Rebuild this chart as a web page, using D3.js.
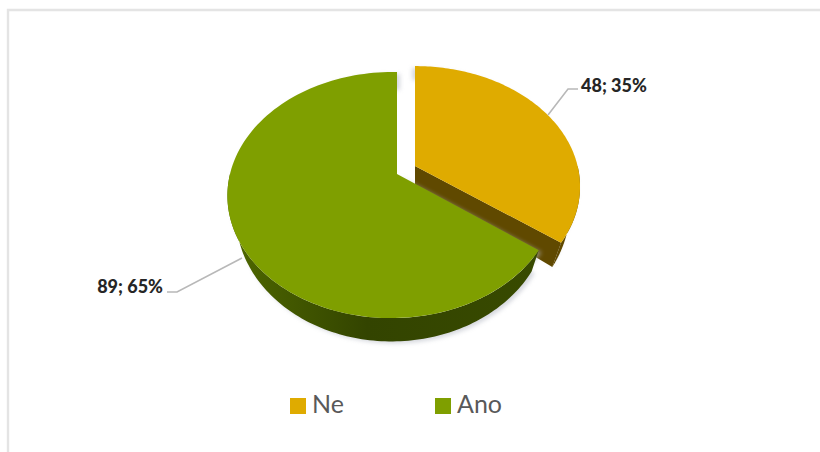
<!DOCTYPE html>
<html>
<head>
<meta charset="utf-8">
<script src="https://cdn.jsdelivr.net/npm/d3@7"></script>
<style>
html,body{margin:0;padding:0;background:#fff}
svg{display:block}
</style>
</head>
<body>
<svg id="chart" width="820" height="452"></svg>
<script>
// Survey answers
const categories = ["Ne", "Ano"];
const counts = [48, 89];
const percents = [35, 65];
const topColors = ["#dfab00", "#7f9f00"];

const svg = d3.select("#chart");
const defs = svg.append("defs");

// Soft shadow under the disc
const blur = defs.append("filter").attr("id", "soft")
  .attr("x", "-10%").attr("y", "-10%").attr("width", "120%").attr("height", "120%");
blur.append("feGaussianBlur").attr("stdDeviation", 2);

const wallGreen = defs.append("linearGradient").attr("id", "wallGreen")
  .attr("x1", 0).attr("x2", 1).attr("y1", 0).attr("y2", 0);
wallGreen.selectAll("stop")
  .data([[0, "#4f6800"], [0.45, "#334400"], [1, "#384a00"]])
  .join("stop")
  .attr("offset", d => d[0]).attr("stop-color", d => d[1]);

// Frame around the chart area: top and left edges only
svg.append("path")
  .attr("d", "M8,452V10H820")
  .attr("fill", "none")
  .attr("stroke", "#e4e4e4")
  .attr("stroke-width", 2.4);

// Each slice is pulled away from the centre, so it carries its own apex and
// perspective. k tilts the disc away from the viewer, m turns it sideways.
const views = [
  {ax: 415, ay: 166, sx: 162.6, sy: 117, k: 0.171, m: 0, drop: 19, bx: 0.94, by: 1.07, shadow: [-3, 2]},
  {ax: 397, ay: 174, sx: 162, sy: 119.4, k: 0.171, m: 0.03, drop: 19, bx: 0.95, by: 1.03, shadow: [3, 2]}
];

const slices = d3.pie().sort(null).value(d => d)(counts);

function project(view, angle, lower) {
  const w = 1 + view.k * Math.cos(angle) + view.m * Math.sin(angle);
  const px = view.sx * Math.sin(angle) / w;
  const py = -view.sy * Math.cos(angle) / w;
  return lower
    ? [view.ax + px * view.bx, view.ay + view.drop + py * view.by]
    : [view.ax + px, view.ay + py];
}

function rim(view, from, to, lower) {
  return d3.range(0, 121).map(i =>
    project(view, d3.interpolateNumber(from, to)(i / 120), lower));
}

const line = d3.line();
const closed = pts => line(pts) + "Z";

function wallPoints(view, from, to) {
  return rim(view, from, to, false).concat(rim(view, from, to, true).reverse());
}

// Draw back to front: the orange slice first, the larger slice over it
const wallFill = [null, "url(#wallGreen)"];
[0, 1].forEach(i => {
  const s = slices[i], v = views[i];
  const g = svg.append("g").attr("class", "slice");
  const top = [[v.ax, v.ay]].concat(rim(v, s.startAngle, s.endAngle, false));
  const bottomApex = [v.ax, v.ay + v.drop];

  const outline = top.concat(rim(v, s.startAngle, s.endAngle, true).reverse());
  g.append("path")
    .attr("d", closed(outline.map(p => [p[0] + v.shadow[0], p[1] + v.shadow[1]])))
    .attr("fill", "#b4b8c2")
    .attr("opacity", 0.55)
    .attr("filter", "url(#soft)");

  if (i === 0) {
    // The cut face towards the viewer
    const a = project(v, s.endAngle, false), b = project(v, s.endAngle, true);
    g.append("path")
      .attr("d", closed([[v.ax, v.ay], a, b, bottomApex]))
      .attr("fill", "#604900");
    g.append("path")
      .attr("d", closed(wallPoints(v, Math.PI / 2, s.endAngle)))
      .attr("fill", "#604900");
  } else {
    g.append("path")
      .attr("d", closed(wallPoints(v, s.startAngle, 3 * Math.PI / 2)))
      .attr("fill", wallFill[i]);
  }
  g.append("path")
    .attr("d", closed(top))
    .attr("fill", topColors[i]);
});

// Leader lines and value labels
const leaders = [
  {pts: [[548, 115], [568, 89], [578, 89]], x: 581, y: 92, anchor: "start"},
  {pts: [[242, 258], [177, 292], [167, 292]], x: 163, y: 293, anchor: "end"}
];
leaders.forEach((d, i) => {
  svg.append("path").attr("d", line(d.pts))
    .attr("fill", "none").attr("stroke", "#b8b8b8").attr("stroke-width", 1.6);
  svg.append("text")
    .attr("x", d.x).attr("y", d.y)
    .attr("text-anchor", d.anchor)
    .attr("font-family", "Lato, sans-serif")
    .attr("font-weight", 900)
    .attr("font-size", 18)
    .attr("fill", "#262626")
    .text(`${counts[i]}; ${percents[i]}%`);
});

// Legend
const legendX = d3.scalePoint().domain(categories).range([290, 435]);
const legend = svg.append("g").selectAll("g").data(categories).join("g")
  .attr("transform", d => `translate(${legendX(d)},0)`);
legend.append("rect")
  .attr("y", 398).attr("width", 16).attr("height", 16)
  .attr("fill", (d, i) => topColors[i]);
legend.append("text")
  .attr("x", 22).attr("y", 413)
  .attr("font-family", "Lato, sans-serif")
  .attr("font-size", 25)
  .attr("fill", "#595959")
  .text(d => d);
</script>
</body>
</html>
